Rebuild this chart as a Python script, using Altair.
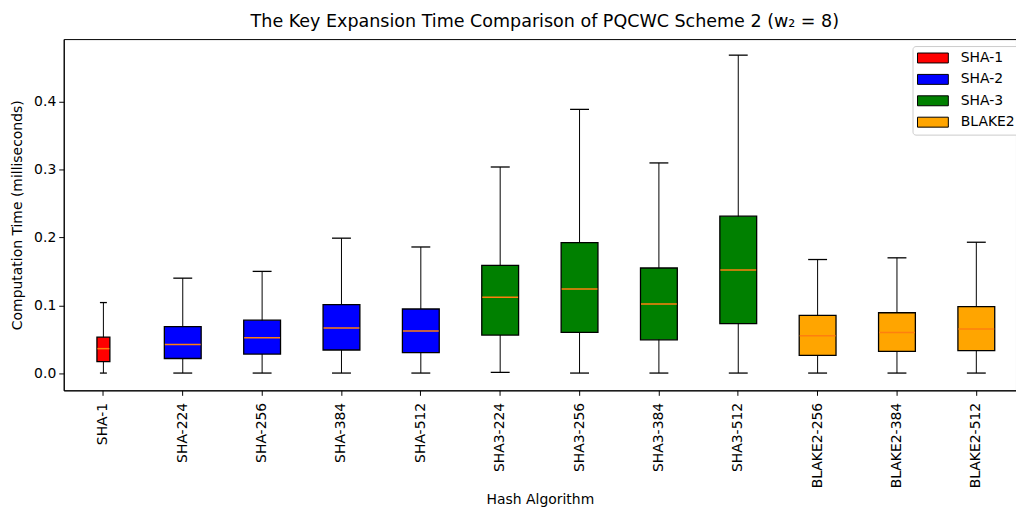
import altair as alt
import pandas as pd

algorithms = ["SHA-1", "SHA-224", "SHA-256", "SHA-384", "SHA-512",
              "SHA3-224", "SHA3-256", "SHA3-384", "SHA3-512",
              "BLAKE2-256", "BLAKE2-384", "BLAKE2-512"]
families = ["SHA-1", "SHA-2", "SHA-2", "SHA-2", "SHA-2",
            "SHA-3", "SHA-3", "SHA-3", "SHA-3",
            "BLAKE2", "BLAKE2", "BLAKE2"]
whisker_low = [0.000, 0.000, 0.000, 0.000, 0.000, 0.001, 0.000, 0.000, 0.000, 0.000, 0.000, 0.000]
q1 = [0.017, 0.0215, 0.028, 0.034, 0.030, 0.056, 0.060, 0.049, 0.073, 0.026, 0.032, 0.033]
median = [0.036, 0.042, 0.052, 0.0665, 0.062, 0.112, 0.124, 0.102, 0.152, 0.055, 0.060, 0.065]
q3 = [0.053, 0.0685, 0.078, 0.101, 0.0945, 0.159, 0.1925, 0.155, 0.2315, 0.085, 0.089, 0.098]
whisker_high = [0.104, 0.140, 0.150, 0.199, 0.186, 0.304, 0.389, 0.310, 0.469, 0.1675, 0.170, 0.193]

family_order = ["SHA-1", "SHA-2", "SHA-3", "BLAKE2"]
family_colors = ["red", "blue", "green", "orange"]

df = pd.DataFrame({
    "algorithm": algorithms, "family": families,
    "low": whisker_low, "q1": q1, "median": median, "q3": q3, "high": whisker_high,
})

FONT = "DejaVu Sans"
YTITLE = "Computation Time (milliseconds)"
yscale = alt.Scale(domain=[-0.0255, 0.4927], nice=False, zero=False)
yaxis = alt.Axis(values=[0.0, 0.1, 0.2, 0.3, 0.4], format=".1f", grid=False,
                 tickSize=5, tickColor="black", domainColor="black",
                 labelFontSize=14, labelColor="black", titleFontSize=14,
                 titleFontWeight="normal", titleColor="black", labelPadding=3,
                 titlePadding=9)


def Y(field):
    return alt.Y(f"{field}:Q", scale=yscale, axis=yaxis, title=YTITLE)


base = alt.Chart(df).encode(
    x=alt.X("algorithm:N", sort=algorithms,
            scale=alt.Scale(paddingInner=0, paddingOuter=0),
            axis=alt.Axis(labelAngle=270, labelAlign="right", labelBaseline="middle",
                          labelFontSize=14, labelColor="black", tickSize=5,
                          tickColor="black", domainColor="black",
                          titleFontSize=14, titleFontWeight="normal",
                          titleColor="black", labelPadding=7, titlePadding=5),
            title="Hash Algorithm")
)

is_sha1 = "datum.algorithm == 'SHA-1'"

whisker = base.mark_rule(color="black", strokeWidth=1).encode(
    y=Y("low"), y2="high:Q")

box = base.mark_bar(stroke="black", strokeWidth=1.3, opacity=1).encode(
    y=Y("q1"), y2="q3:Q",
    color=alt.Color("family:N",
                    scale=alt.Scale(domain=family_order, range=family_colors),
                    legend=alt.Legend(title=None, orient="none", legendX=853, legendY=7,
                                      symbolType="M-2.214,-0.714H2.214V0.714H-2.214Z",
                                      symbolSize=196, symbolStrokeColor="black",
                                      symbolStrokeWidth=1, symbolOpacity=1,
                                      symbolOffset=8.5, clipHeight=15,
                                      labelFontSize=14, labelColor="black",
                                      rowPadding=6.5, labelOffset=20.5,
                                      strokeColor="#cccccc", fillColor="white",
                                      padding=4.5, cornerRadius=3)),
    size=alt.condition(is_sha1, alt.value(13), alt.value(37)),
)

med = base.mark_tick(color="#ff7f0e", thickness=1.5, opacity=1).encode(
    y=Y("median"),
    size=alt.condition(is_sha1, alt.value(12), alt.value(36)),
)

cap_hi = base.mark_tick(color="black", thickness=1.3, opacity=1).encode(
    y=Y("high"),
    size=alt.condition(is_sha1, alt.value(7), alt.value(19)),
)
cap_lo = base.mark_tick(color="black", thickness=1.3, opacity=1).encode(
    y=Y("low"),
    size=alt.condition(is_sha1, alt.value(7), alt.value(19)),
)

chart = alt.layer(whisker, box, med, cap_hi, cap_lo).properties(
    width=957, height=353,
    title=alt.TitleParams("The Key Expansion Time Comparison of PQCWC Scheme 2 (w₂ = 8)",
                          fontSize=17.6, fontWeight="normal", color="black",
                          anchor="middle", offset=9, dx=5, font=FONT),
    autosize=alt.AutoSizeParams(type="none"),
    padding={"left": 56, "top": 30, "right": 0, "bottom": 118},
).configure(font=FONT).configure_view(stroke="black", strokeWidth=1)

chart.save("out.html", embed_options={"renderer": "svg", "actions": False})
